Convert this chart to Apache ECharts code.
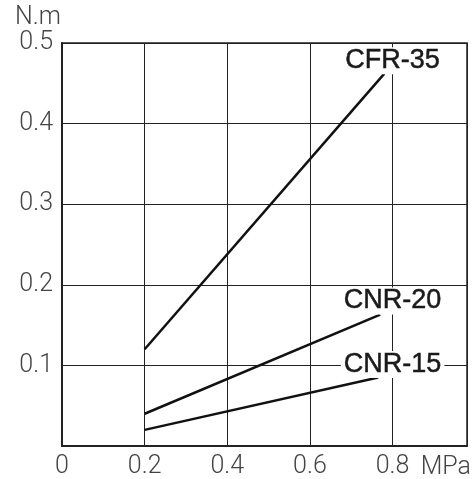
<!DOCTYPE html>
<html><head><meta charset="utf-8">
<script src="https://cdn.jsdelivr.net/npm/echarts@6/dist/echarts.min.js"></script>
<style>html,body{margin:0;padding:0;background:#fff}#c{width:476px;height:479px}</style>
</head><body><div id="c"></div>
<script>
const xTicks = [0, 0.2, 0.4, 0.6, 0.8];
const yTicks = [0.1, 0.2, 0.3, 0.4, 0.5];
const seriesNames = ['CFR-35', 'CNR-20', 'CNR-15'];
const cfr35 = [[0.2, 0.12], [0.78, 0.462]];
const cnr20 = [[0.2, 0.04], [0.77, 0.163]];
const cnr15 = [[0.2, 0.02], [0.765, 0.085]];
const labelAnchors = [[0.8, 0.478], [0.8, 0.18], [0.8, 0.101]];
const xUnit = 'MPa';
const yUnit = 'N.m';

const chart = echarts.init(document.getElementById('c'));
const tickFont = {fontFamily: 'Roboto', fontWeight: 300, fontSize: 25, color: '#444'};
const lineData = [cfr35, cnr20, cnr15];
chart.setOption({
  animation: false,
  grid: {left: 62, right: 9, top: 43, bottom: 31, show: true, borderColor: '#222', borderWidth: 1.5},
  xAxis: {
    type: 'value', min: 0, max: 0.98, interval: 0.2,
    axisLine: {show: true, lineStyle: {color: '#222', width: 2}},
    axisTick: {show: false},
    splitLine: {show: true, lineStyle: {color: '#222', width: 1}},
    axisLabel: Object.assign({}, tickFont, {showMaxLabel: false, margin: 8,
      formatter: v => xTicks.includes(+v.toFixed(2)) ? (v === 0 ? '0' : v.toFixed(1)) : ''})
  },
  yAxis: {
    type: 'value', min: 0, max: 0.5, interval: 0.1,
    axisLine: {show: true, lineStyle: {color: '#222', width: 2}},
    axisTick: {show: false},
    splitLine: {show: true, lineStyle: {color: '#222', width: 1}},
    axisLabel: Object.assign({}, tickFont, {showMinLabel: false, margin: 9,
      formatter: v => yTicks.includes(+v.toFixed(2)) ? v.toFixed(1) : ''})
  },
  graphic: [
    {type: 'text', left: 15, top: 5, style: {text: yUnit, font: '300 25px Roboto', fill: '#444'}},
    {type: 'text', right: 5, top: 455, style: {text: xUnit, font: '300 25px Roboto', fill: '#444'}}
  ],
  series: seriesNames.map((n, i) => ({
    name: n, type: 'line', data: lineData[i], symbol: 'none',
    lineStyle: {color: '#111', width: 2.5},
    markPoint: {
      symbol: 'rect', symbolSize: 1, itemStyle: {color: 'rgba(0,0,0,0)'},
      data: [{coord: labelAnchors[i]}],
      label: {show: true, position: 'inside', formatter: n, fontFamily: 'Liberation Sans', fontSize: 27,
        color: '#1a1a1a', textBorderColor: '#1a1a1a', textBorderWidth: 0.5,
        backgroundColor: '#fff', padding: [0, 3]}
    }
  }))
});
</script></body></html>
